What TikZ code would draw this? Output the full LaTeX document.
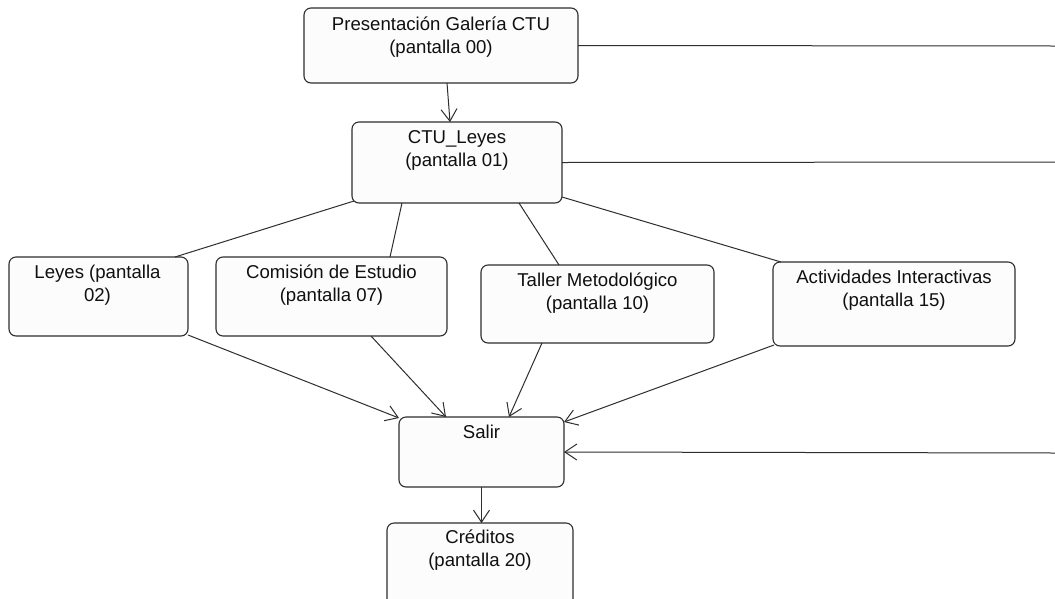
\documentclass[tikz,border=0pt]{standalone}
\usepackage{fontspec}
\setmainfont{Liberation Sans}
\usetikzlibrary{arrows.meta,calc}
\definecolor{edge}{HTML}{2E2E2E}
\definecolor{boxfill}{HTML}{FCFCFC}
\definecolor{ink}{HTML}{101010}
\begin{document}
\begin{tikzpicture}[x=1pt,y=-1pt,
  screen/.style={draw=edge,line width=1.1pt,fill=boxfill,rounded corners=7pt,
    inner sep=0pt,outer sep=0pt,anchor=north west},
  lbl/.style={font=\fontsize{18.6}{23}\selectfont,text=ink,align=center,
    inner sep=0pt,anchor=north},
  link/.style={draw=edge,line width=1pt},
  flow/.style={link,-{Straight Barb[length=12pt,width=16pt,line width=1pt]}}]
\useasboundingbox (0,0) rectangle (1055,598);
\clip (0,0) rectangle (1055,598);
\fill[white] (0,0) rectangle (1055,598);

% screens
\node[screen,minimum width=274pt,minimum height=75pt] (p00) at (304,8) {};
\node[screen,minimum width=210pt,minimum height=81pt] (ctu) at (352,122) {};
\node[screen,minimum width=179pt,minimum height=79pt] (leyes) at (9,257) {};
\node[screen,minimum width=231pt,minimum height=79pt] (com) at (216,257) {};
\node[screen,minimum width=233pt,minimum height=78pt] (tal) at (481,265) {};
\node[screen,minimum width=242pt,minimum height=84pt] (act) at (773,262) {};
\node[screen,minimum width=165pt,minimum height=70pt] (salir) at (399,417) {};
\node[screen,minimum width=186pt,minimum height=90pt] (cred) at (387,523) {};

% titles
\node[lbl] (t00) at ($(p00.north)+(0,6)$) {\strut Presentación Galería CTU\\(pantalla 00)};
\node[lbl] (t01) at ($(ctu.north)+(0,5)$) {\strut CTU\_Leyes\\(pantalla 01)};
\node[lbl] (t02) at ($(leyes.north)+(-1,5)$) {\strut Leyes (pantalla\\02)};
\node[lbl] (t07) at ($(com.north)+(0,5)$) {\strut Comisión de Estudio\\(pantalla 07)};
\node[lbl] (t10) at ($(tal.north)+(0,5)$) {\strut Taller Metodológico\\(pantalla 10)};
\node[lbl] (t15) at ($(act.north)+(0,5)$) {\strut Actividades Interactivas\\(pantalla 15)};
\node[lbl] (tsal) at ($(salir.north)+(0,5)$) {\strut Salir};
\node[lbl] (t20) at ($(cred.north)+(0,4)$) {\strut Créditos\\(pantalla 20)};

% links leaving the picture on the right
\coordinate (e00) at (1055,46);
\coordinate (e01) at (1055,162);
\coordinate (e02) at (1055,453);

% connectors
\draw[flow] ($(p00.south west)+(143,0)$) -- ($(ctu.north west)+(98,0)$);
\draw[link] (p00.east) -- (e00);
\draw[link] (ctu.east) -- (e01);

\draw[link] ($(ctu.south west)+(2,-2)$) -- ($(leyes.north west)+(166,0)$);
\draw[link] ($(ctu.south west)+(50,0)$) -- ($(com.north west)+(174,0)$);
\draw[link] ($(ctu.south west)+(167,0)$) -- ($(tal.north west)+(78,0)$);
\draw[link] ($(ctu.south east)+(0,-6)$) -- ($(act.north west)+(8,0)$);

\draw[flow] ($(leyes.south east)+(0,-1)$) -- ($(salir.north west)+(0,1)$);
\draw[flow] ($(com.south west)+(155,0)$) -- ($(salir.north west)+(47,0)$);
\draw[flow] ($(tal.south west)+(61,0)$) -- ($(salir.north west)+(110,0)$);
\draw[flow] ($(act.south west)+(1,-1)$) -- ($(salir.north east)+(0,5)$);
\draw[flow] (e02) -- (salir.east);
\draw[flow] (salir.south) -- (salir.south |- cred.north);
\end{tikzpicture}
\end{document}
